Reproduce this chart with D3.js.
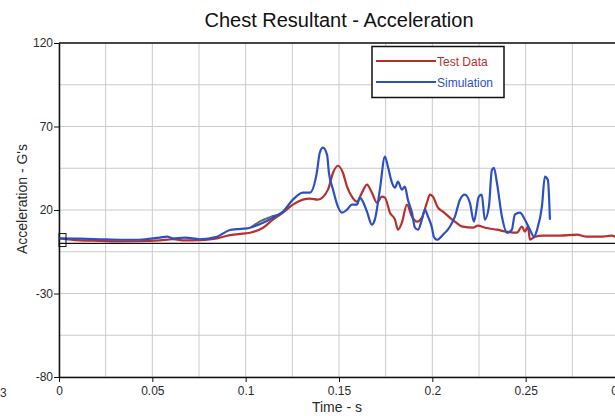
<!DOCTYPE html>
<html><head><meta charset="utf-8">
<script src="https://cdn.jsdelivr.net/npm/d3@7"></script>
<style>body{margin:0;background:#fff;overflow:hidden}svg{display:block;font-family:Arial,"Liberation Sans",sans-serif}</style>
</head><body><svg id="c" width="615" height="416"></svg>
<script>
const title = "Chest Resultant - Acceleration";
const xLabel = "Time - s";
const yLabel = "Acceleration - G's";
const xTicks = [0, 0.05, 0.1, 0.15, 0.2, 0.25, 0.3];
const xTickLabels = ["0", "0.05", "0.1", "0.15", "0.2", "0.25", "0.3"];
const yTicks = [120, 70, 20, -30, -80];
const yTickLabels = ["120", "70", "20", "-30", "-80"];
const seriesNames = ["Test Data", "Simulation"];
const testData = [
 [0,3],[0.011,1.8],[0.022,1.5],[0.033,1.2],[0.043,1.3],[0.054,1.8],[0.061,2.5],[0.0675,1.8],[0.0755,2],
 [0.0846,3],[0.0916,5],[0.1,6],[0.1023,6.4],[0.1093,9.4],[0.1146,14.2],[0.12,18.4],[0.1253,23.2],
 [0.1307,26.2],[0.1344,26.8],[0.1387,26.2],[0.1441,32.2],[0.1468,42.3],[0.1494,46.5],[0.1521,42.3],
 [0.1543,34],[0.1569,28],[0.1596,25],[0.1623,30.4],[0.165,35.2],[0.1676,30.4],[0.1703,24.4],[0.173,28],
 [0.1746,27.4],[0.1773,18.4],[0.18,14.2],[0.1816,8.2],[0.1837,12.4],[0.1864,23.2],[0.1891,16],
 [0.1918,13],[0.1944,15.4],[0.1971,24.4],[0.1987,29.2],[0.2003,28],[0.203,21.4],[0.2057,19],
 [0.2094,15.4],[0.2121,13],[0.2164,10],[0.2217,9.4],[0.2244,10.6],[0.2282,9.4],[0.2346,8.2],[0.24,7],
 [0.2453,6.4],[0.248,10],[0.2496,7],[0.2512,10],[0.2523,2.2],[0.255,4],[0.2592,4.6],[0.2683,4.6],
 [0.2775,5.2],[0.2828,4],[0.2898,4],[0.2962,4.6],[0.2985,3.5]
];
const simulation = [
 [0,3],[0.011,2.8],[0.022,2.5],[0.033,2.2],[0.043,2.2],[0.054,3.5],[0.058,4],[0.061,3],[0.0675,3.5],
 [0.0755,2.5],[0.0846,4],[0.0916,8],[0.0953,8.5],[0.1007,9],[0.1023,9.4],[0.1093,12.4],[0.1146,15.4],
 [0.12,19],[0.1253,26.2],[0.1307,30.4],[0.1344,30.4],[0.1381,42.3],[0.1397,54.3],[0.1414,57.3],
 [0.1436,53],[0.1446,42.3],[0.1468,32.2],[0.1494,22],[0.1516,18.4],[0.1543,20.2],[0.1569,23.2],
 [0.1596,23.2],[0.1612,27.4],[0.1628,25],[0.165,19],[0.1676,11.2],[0.1692,14.2],[0.1719,32.2],
 [0.1746,52],[0.1762,46],[0.1784,36.3],[0.18,33.4],[0.1816,37],[0.1837,32.2],[0.1853,34],[0.1869,26.2],
 [0.1891,18.4],[0.1907,9.4],[0.1923,8.2],[0.1944,14.2],[0.196,20.2],[0.1977,16],[0.1998,9.4],
 [0.2008,4],[0.2025,2.2],[0.2057,5.2],[0.2094,10],[0.2121,16],[0.2148,26.2],[0.2174,29.2],
 [0.2201,24.4],[0.2223,13],[0.2249,28],[0.2265,29.2],[0.2281,14.2],[0.2303,22],[0.2319,44],
 [0.233,45.3],[0.2346,36.3],[0.2373,16],[0.24,6.4],[0.2426,8.2],[0.2442,17.2],[0.2469,18.4],
 [0.2496,14.2],[0.2523,8.2],[0.2545,4],[0.2561,8.2],[0.2587,22],[0.2603,40],[0.2619,38],[0.263,14.2]
];
const hiddenTrace = [[0.103,9.8],[0.107,12.8],[0.111,14.8],[0.114,16.2],[0.117,17],[0.119,18.2]];
const markerPoint = [0, 2];

const svg = d3.select("#c");
const x = d3.scaleLinear().domain([0, 0.3]).range([59, 619]);
const y = d3.scaleLinear().domain([-80, 120]).range([377, 43]);
const red = "#b8302c", blue = "#2c4fc4";
const font = "Arial, 'Liberation Sans', sans-serif";

// grid
const xGrid = d3.range(0, 0.3001, 0.025), yGrid = d3.range(-80, 120.1, 25);
svg.append("g").selectAll("line").data(xGrid).join("line")
  .attr("x1", d => x(d)).attr("x2", d => x(d)).attr("y1", y(120)).attr("y2", y(-80))
  .attr("stroke", "#cacaca").attr("stroke-width", 1);
svg.append("g").selectAll("line").data(yGrid).join("line")
  .attr("x1", x(0)).attr("x2", x(0.3)).attr("y1", d => y(d)).attr("y2", d => y(d))
  .attr("stroke", "#cacaca").attr("stroke-width", 1);

// frame top
svg.append("line").attr("x1", x(0)).attr("x2", x(0.3)).attr("y1", y(120)).attr("y2", y(120))
  .attr("stroke", "#111").attr("stroke-width", 1.5);

// axes
const xAxis = d3.axisBottom(x).tickValues(xTicks).tickFormat((d,i) => xTickLabels[i]).tickSize(5).tickSizeOuter(0);
const gx = svg.append("g").attr("transform", `translate(0,${y(-80)})`).call(xAxis);
gx.select(".domain").attr("stroke", "#111").attr("stroke-width", 1.5);
gx.selectAll(".tick line").attr("stroke", "#111");
gx.selectAll("text").attr("font-size", 12).attr("fill", "#2a2a2a").attr("font-family", font).attr("dy", "0.85em");
const yAxis = d3.axisLeft(y).tickValues(yTicks).tickFormat((d,i) => yTickLabels[i]).tickSize(5).tickSizeOuter(0);
const gy = svg.append("g").attr("transform", `translate(${x(0)},0)`).call(yAxis);
gy.select(".domain").attr("stroke", "#111").attr("stroke-width", 1.5);
gy.selectAll(".tick line").attr("stroke", "#111");
gy.selectAll("text").attr("font-size", 12).attr("fill", "#2a2a2a").attr("font-family", font).attr("x", -6);

// zero line
svg.append("line").attr("x1", x(0)).attr("x2", x(0.3)).attr("y1", y(0)).attr("y2", y(0))
  .attr("stroke", "#111").attr("stroke-width", 1.2);

// series
const line = d3.line().x(d => x(d[0])).y(d => y(d[1])).curve(d3.curveMonotoneX);
svg.append("clipPath").attr("id", "pc").append("rect")
  .attr("x", x(0)).attr("y", y(120)).attr("width", x(0.3) - x(0)).attr("height", y(-80) - y(120));
const plot = svg.append("g").attr("clip-path", "url(#pc)");
plot.append("path").attr("d", line(hiddenTrace)).attr("fill", "none").attr("stroke", "#666").attr("stroke-width", 2);
plot.append("path").attr("d", line(testData)).attr("fill", "none").attr("stroke", red).attr("stroke-width", 2.2).attr("stroke-linejoin", "round");
plot.append("path").attr("d", line(simulation)).attr("fill", "none").attr("stroke", blue).attr("stroke-width", 2.2).attr("stroke-linejoin", "round");

// marker square at start
svg.append("rect").attr("x", x(markerPoint[0])).attr("y", y(markerPoint[1]) - 6.5)
  .attr("width", 7).attr("height", 13).attr("fill", "none").attr("stroke", "#111").attr("stroke-width", 1);

// legend
const lg = svg.append("g");
lg.append("rect").attr("x", 372).attr("y", 46.5).attr("width", 132).attr("height", 51)
  .attr("fill", "#fff").attr("stroke", "#111").attr("stroke-width", 1.5);
[red, blue].forEach((c, i) => {
  const yy = 61 + i * 21;
  lg.append("line").attr("x1", 376).attr("x2", 436).attr("y1", yy).attr("y2", yy).attr("stroke", c).attr("stroke-width", 2);
  lg.append("text").attr("x", 437).attr("y", yy + 4.5).attr("font-size", 12).attr("fill", c).text(seriesNames[i]);
});

// titles
svg.append("text").attr("x", 339).attr("y", 27).attr("text-anchor", "middle").attr("font-size", 20).attr("fill", "#111").text(title);
svg.append("text").attr("x", 337).attr("y", 412).attr("text-anchor", "middle").attr("font-size", 14).attr("fill", "#2a2a2a").text(xLabel);
svg.append("text").attr("transform", "translate(27,199) rotate(-90)").attr("text-anchor", "middle").attr("font-size", 14).attr("fill", "#2a2a2a").text(yLabel);
svg.append("text").attr("x", 0).attr("y", 397).attr("font-size", 12).attr("fill", "#333").text("3");
</script></body></html>
